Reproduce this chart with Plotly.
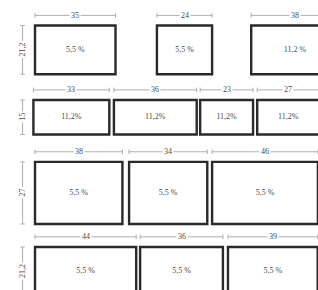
import plotly.graph_objects as go

# ---- data ----
row_widths = [[35, 24, 38], [33, 36, 23, 27], [38, 34, 46], [44, 36, 39]]
row_heights = [21.2, 15, 27, 21.2]
row_height_labels = ["21,2", "15", "27", "21,2"]
row_width_labels = [["35", "24", "38"], ["33", "36", "23", "27"], ["38", "34", "46"], ["44", "36", "39"]]
row_pct_labels = [["5,5 %", "5,5 %", "11,2 %"],
                  ["11,2%", "11,2%", "11,2%", "11,2%"],
                  ["5,5 %", "5,5 %", "5,5 %"],
                  ["5,5 %", "5,5 %", "5,5 %"]]

# ---- layout (diagram placement) ----
row_start = [0, -0.7, 0, 0]
row_gaps = [[18, 17], [2.0, 1.5, 1.8], [2.9, 2.1], [1.7, 2.2]]
row_top = [0, 32.4, 59.3, 96.3]
dim_offset = 4.4
vdim_x = -5.4

fig = go.Figure()
shapes = []
annotations = []
dim_x, dim_y = [], []
txt_x, txt_y, txt_s = [], [], []
tick = 1.0
label_font = dict(family="Liberation Serif", size=8, color="#4a4a4a")

for r, widths in enumerate(row_widths):
    y0 = row_top[r]
    y1 = y0 + row_heights[r]
    x = row_start[r]
    for i, w in enumerate(widths):
        x0, x1 = x, x + w
        shapes.append(dict(type="rect", xref="x", yref="y", x0=x0, x1=x1, y0=y0, y1=y1,
                           line=dict(color="#2a2a2a", width=2.4), fillcolor="rgba(0,0,0,0)", layer="above"))
        # horizontal dimension line
        yd = y0 - dim_offset
        dim_x += [x0, x1, None, x0, x0, None, x1, x1, None]
        dim_y += [yd, yd, None, yd - tick, yd + tick, None, yd - tick, yd + tick, None]
        annotations.append(dict(x=(x0 + x1) / 2, y=yd, xref="x", yref="y", text=row_width_labels[r][i],
                                showarrow=False, bgcolor="white", borderpad=1, font=label_font))
        txt_x.append((x0 + x1) / 2)
        txt_y.append((y0 + y1) / 2)
        txt_s.append(row_pct_labels[r][i])
        if i < len(row_gaps[r]):
            x = x1 + row_gaps[r][i]
    # vertical dimension line
    dim_x += [vdim_x, vdim_x, None, vdim_x - tick, vdim_x + tick, None, vdim_x - tick, vdim_x + tick, None]
    dim_y += [y0, y1, None, y0, y0, None, y1, y1, None]
    annotations.append(dict(x=vdim_x, y=(y0 + y1) / 2, xref="x", yref="y", text=row_height_labels[r],
                            showarrow=False, textangle=-90, bgcolor="white", borderpad=1, font=label_font))

fig.add_trace(go.Scatter(x=dim_x, y=dim_y, mode="lines", line=dict(color="#9a9a9a", width=0.8),
                         hoverinfo="skip", showlegend=False))
fig.add_trace(go.Scatter(x=txt_x, y=txt_y, mode="text", text=txt_s, textfont=label_font,
                         hoverinfo="skip", showlegend=False))

fig.update_layout(
    width=318, height=290,
    margin=dict(l=0, r=0, t=0, b=0),
    paper_bgcolor="white", plot_bgcolor="white",
    shapes=shapes, annotations=annotations,
    xaxis=dict(range=[-15.22, 123.04], visible=False, fixedrange=True),
    yaxis=dict(range=[115.0, -11.09], visible=False, fixedrange=True),
    showlegend=False,
)
fig.write_html("out.html", config={"displayModeBar": False},
               post_script="document.body.style.margin='0';document.body.style.overflow='hidden';")
